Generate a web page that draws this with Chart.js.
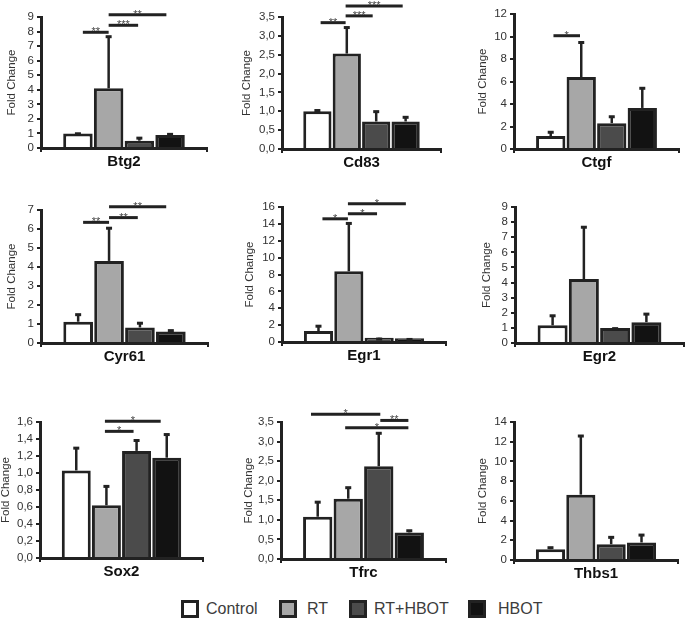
<!DOCTYPE html>
<html>
<head>
<meta charset="utf-8">
<script src="https://cdn.jsdelivr.net/npm/chart.js@4.4.1/dist/chart.umd.min.js"></script>
<style>
  body { margin: 0; background: #fff; width: 685px; height: 619px; position: relative; overflow: hidden; font-family: "Liberation Sans", Arial, sans-serif; }
  canvas { position: absolute; }
  .key { position: absolute; top: 600px; width: 18px; height: 18px; box-sizing: border-box; border: 3px solid #222; }
  .lbl { position: absolute; top: 599px; font-size: 16px; line-height: 19px; color: #3c3c3c; }
</style>
</head>
<body>
<script>
// genes (one small chart each) and treatment groups
const genes = ["Btg2", "Cd83", "Ctgf", "Cyr61", "Egr1", "Egr2", "Sox2", "Tfrc", "Thbs1"];
const groups = ["Control", "RT", "RT+HBOT", "HBOT"];

// mean fold change per gene
const control = [1.0, 1.0, 1.15, 1.12, 1.3, 1.17, 1.03, 1.08, 1.1];
const rt      = [4.1, 2.53, 6.4, 4.32, 8.38, 4.23, 0.62, 1.54, 6.63];
const rtHbot  = [0.5, 0.73, 2.3, 0.82, 0.5, 1.0, 1.26, 2.37, 1.6];
const hbot    = [0.9, 0.73, 3.65, 0.6, 0.45, 1.38, 1.18, 0.68, 1.78];

// upper error bars
const controlErr = [0.08, 0.06, 0.47, 0.45, 0.75, 0.73, 0.28, 0.41, 0.3];
const rtErr      = [3.65, 0.73, 3.2, 1.8, 5.85, 3.53, 0.24, 0.32, 6.1];
const rtHbotErr  = [0.28, 0.3, 0.7, 0.3, 0.03, 0.05, 0.14, 0.88, 0.85];
const hbotErr    = [0.14, 0.15, 1.88, 0.13, 0.03, 0.63, 0.29, 0.08, 0.9];

// y axis ranges
const yMax  = [9, 3.5, 12, 7, 16, 9, 1.6, 3.5, 14];
const yStep = [1, 0.5, 2, 1, 2, 1, 0.2, 0.5, 2];

// significance bars: [from group, to group, height, stars]
const brackets = [
  [[0.16, 1, 7.95, "**"], [1, 1.96, 8.43, "***"], [1, 2.88, 9.16, "**"]],
  [[0.11, 0.96, 3.35, "**"], [0.96, 1.88, 3.53, "***"], [0.96, 2.9, 3.79, "***"]],
  [[0.09, 0.96, 10.07, "*"]],
  [[0.16, 1, 6.35, "**"], [1, 1.93, 6.6, "**"], [1, 2.85, 7.17, "**"]],
  [[0.13, 0.97, 14.6, "*"], [0.97, 1.93, 15.2, "*"], [0.97, 2.88, 16.4, "*"]],
  [],
  [[0.95, 1.9, 1.49, "*"], [0.95, 2.8, 1.61, "*"]],
  [[-0.22, 2.05, 3.7, "*"], [2.05, 2.97, 3.54, "**"], [0.9, 2.97, 3.35, "*"]],
  []
];

const series = [control, rt, rtHbot, hbot];
const errs = [controlErr, rtErr, rtHbotErr, hbotErr];
const fills = ["#ffffff", "#a7a7a7", "#4b4b4b", "#121212"];
const ink = "#222222";
const fam = "'Liberation Sans', Arial, sans-serif";

// placement of each panel: y-axis x, top y, zero y, axis end x, title offset
const panels = [
  [41, 17, 148, 207, 29], [282, 17, 149, 441, 35], [514, 14, 149, 679, 31],
  [41, 210, 343, 208, 29], [282, 207, 342, 446, 32], [515, 207, 343, 684, 28],
  [40, 422, 558, 203, 34], [281, 422, 559, 446, 32], [514, 422, 560, 678, 31]
];

// error bars and significance lines
const marks = {
  id: "marks",
  afterDatasetsDraw(chart, args, opts) {
    const ctx = chart.ctx, y = chart.scales.y, i = opts.gene;
    ctx.save();
    ctx.strokeStyle = ink;
    ctx.fillStyle = ink;
    series.forEach((s, d) => {
      const bar = chart.getDatasetMeta(d).data[0];
      const top = y.getPixelForValue(s[i]);
      const tip = y.getPixelForValue(s[i] + errs[d][i]);
      ctx.lineWidth = 2.5;
      ctx.beginPath();
      ctx.moveTo(bar.x, top);
      ctx.lineTo(bar.x, tip + 1);
      ctx.stroke();
      ctx.fillRect(bar.x - 3, tip, 6, 3);
    });
    const x0 = chart.getDatasetMeta(0).data[0].x;
    const dx = chart.getDatasetMeta(1).data[0].x - x0;
    ctx.font = "11px " + fam;
    ctx.textAlign = "center";
    ctx.textBaseline = "alphabetic";
    brackets[i].forEach(([a, b, v, label]) => {
      const yy = y.getPixelForValue(v);
      ctx.lineWidth = 3;
      ctx.strokeStyle = ink;
      ctx.beginPath();
      ctx.moveTo(x0 + a * dx, yy);
      ctx.lineTo(x0 + b * dx, yy);
      ctx.stroke();
      ctx.fillStyle = "#444";
      ctx.fillText(label, x0 + (a + b) / 2 * dx, yy + 3);
    });
    ctx.restore();
  }
};

genes.forEach((gene, i) => {
  const [ax, top, bot, right, toff] = panels[i];
  const yW = toff + 7, padTop = 18, xH = 30, padRight = 5;
  const cv = document.createElement("canvas");
  cv.width = yW + (right - ax) + padRight;
  cv.height = padTop + (bot - top) + xH;
  cv.style.left = (ax - yW) + "px";
  cv.style.top = (top - padTop) + "px";
  document.body.appendChild(cv);

  const comma = yStep[i] < 1;
  new Chart(cv, {
    type: "bar",
    data: {
      labels: [gene],
      datasets: groups.map((g, d) => ({
        label: g,
        data: [series[d][i]],
        backgroundColor: fills[d],
        borderColor: ink,
        borderWidth: 3,
        barPercentage: 0.96,
        categoryPercentage: 0.74,
      })),
    },
    options: {
      responsive: false,
      animation: false,
      devicePixelRatio: 1,
      layout: { padding: { top: padTop, right: padRight, left: 0, bottom: 0 } },
      plugins: {
        legend: { display: false },
        tooltip: { enabled: false },
        marks: { gene: i },
      },
      scales: {
        x: {
          ticks: { display: false },
          grid: { drawOnChartArea: false, drawTicks: true, tickLength: 4, color: ink, lineWidth: 2 },
          border: { color: ink, width: 3 },
          title: {
            display: true,
            text: gene,
            color: "#111",
            font: { family: fam, size: 15, weight: "bold" },
            padding: { top: 0, bottom: 7 },
          },
          afterFit: (s) => { s.height = xH; },
        },
        y: {
          min: 0,
          max: yMax[i],
          ticks: {
            stepSize: yStep[i],
            color: "#333",
            padding: 3,
            font: { family: fam, size: 11.5, lineHeight: 1 },
            callback: (v) => comma ? v.toFixed(1).replace(".", ",") : v,
          },
          grid: { drawOnChartArea: false, drawTicks: true, tickLength: 4, color: ink, lineWidth: 2 },
          border: { color: ink, width: 3 },
          title: {
            display: true,
            text: "Fold Change",
            color: "#333",
            font: { family: fam, size: 11.5 },
            padding: 0,
          },
          afterFit: (s) => { s.width = yW; },
        },
      },
    },
    plugins: [marks],
  });
});

// legend along the bottom
const keyX = [181, 279, 349, 468];
const lblX = [206, 307, 374, 498];
groups.forEach((g, d) => {
  const k = document.createElement("div");
  k.className = "key";
  k.style.left = keyX[d] + "px";
  k.style.background = fills[d];
  document.body.appendChild(k);
  const t = document.createElement("div");
  t.className = "lbl";
  t.style.left = lblX[d] + "px";
  t.textContent = g;
  document.body.appendChild(t);
});
</script>
</body>
</html>
